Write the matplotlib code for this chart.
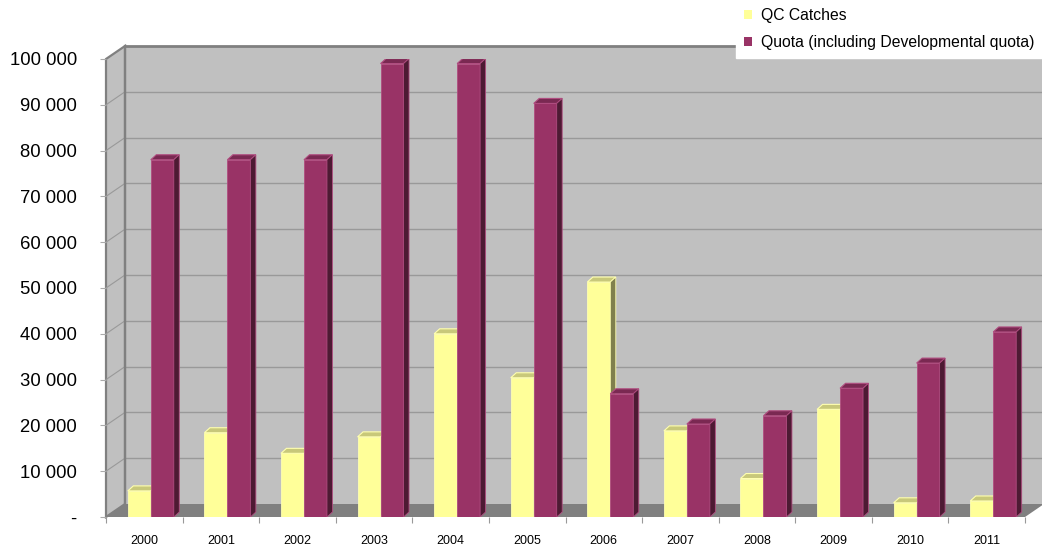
import matplotlib
matplotlib.use("Agg")
import matplotlib.pyplot as plt
from matplotlib.patches import Polygon, Patch
import numpy as np

plt.rcParams['font.family'] = ['Liberation Sans', 'DejaVu Sans']

years = ['2000', '2001', '2002', '2003', '2004', '2005', '2006', '2007', '2008', '2009', '2010', '2011']
catches = [5700, 18400, 13900, 17500, 40000, 30400, 51300, 18800, 8400, 23500, 3100, 3500]
quota = [78000, 78000, 78000, 99000, 99000, 90300, 26900, 20300, 22100, 28100, 33600, 40400]
series_names = ['QC Catches', 'Quota (including Developmental quota)']
ytick_values = list(range(0, 100001, 10000))

W, H, DPI = 1042, 550, 100
fig = plt.figure(figsize=(W / DPI, H / DPI), dpi=DPI)
fig.patch.set_facecolor('white')

# axes placement in pixels
ax_l, ax_r, ax_b, ax_t = 106, 1025, 517, 59
ax = fig.add_axes([ax_l / W, (H - ax_b) / H, (ax_r - ax_l) / W, (ax_b - ax_t) / H])
n = len(years)
x0, x1 = -0.5, n - 0.5
ymax = 100000
ax.set_xlim(x0, x1)
ax.set_ylim(0, ymax)
ax.patch.set_visible(False)
for s in ax.spines.values():
    s.set_visible(False)

px_x = (ax_r - ax_l) / (x1 - x0)      # pixels per category unit
px_y = (ax_b - ax_t) / ymax           # pixels per value unit

# wall depth
bdx = 19 / px_x
bdy = 13 / px_y
# bar depth
dx = 5.5 / px_x
dy = 5 / px_y

wall_c = '#C0C0C0'
edge_c = '#808080'
floor_c = '#808080'

# back wall
ax.add_patch(Polygon([(x0 + bdx, bdy), (x1 + bdx + 0.5, bdy), (x1 + bdx + 0.5, ymax + bdy), (x0 + bdx, ymax + bdy)],
                     closed=True, facecolor=wall_c, edgecolor='none', zorder=1, clip_on=False))
ax.plot([x0 + bdx, x1 + bdx + 0.5], [ymax + bdy, ymax + bdy], color=edge_c, lw=2.0, zorder=1.5, clip_on=False)
# side wall
ax.add_patch(Polygon([(x0, 0), (x0, ymax), (x0 + bdx, ymax + bdy), (x0 + bdx, bdy)],
                     closed=True, facecolor=wall_c, edgecolor=edge_c, lw=1.6, zorder=1.2, clip_on=False))
# gridlines
for v in ytick_values[1:-1]:
    ax.plot([x0 + bdx, x1 + bdx + 0.5], [v + bdy, v + bdy], color='#999999', lw=1.0, zorder=1.1, clip_on=False)
    ax.plot([x0, x0 + bdx], [v, v + bdy], color='#999999', lw=0.8, zorder=1.3, clip_on=False)
ax.plot([x0 + bdx, x0 + bdx], [bdy, ymax + bdy], color=edge_c, lw=1.6, zorder=1.4, clip_on=False)
# floor
ax.add_patch(Polygon([(x0, 0), (x1, 0), (x1 + bdx, bdy), (x0 + bdx, bdy)],
                     closed=True, facecolor=floor_c, edgecolor='none', zorder=2, clip_on=False))

# bars
bw = 0.3
off_y = -0.215
off_m = off_y + bw
styles = [
    dict(front='#FFFF99', top='#C8C87A', side='#80804D', edge='#FFFFB0'),
    dict(front='#993366', top='#7A2952', side='#4D1A33', edge='#B04D80'),
]


def draw_bar(xl, v, st, z):
    xr = xl + bw
    ax.bar(xl, v, width=bw, align='edge', color=st['front'], edgecolor=st['edge'], lw=0.6, zorder=z)
    ax.add_patch(Polygon([(xl, v), (xr, v), (xr + dx, v + dy), (xl + dx, v + dy)], closed=True,
                         facecolor=st['top'], edgecolor=st['edge'], lw=0.8, zorder=z))
    ax.add_patch(Polygon([(xr, 0), (xr, v), (xr + dx, v + dy), (xr + dx, dy)], closed=True,
                         facecolor=st['side'], edgecolor=st['edge'], lw=0.6, zorder=z))


z = 3
for i in range(n):
    draw_bar(i + off_y, catches[i], styles[0], z)
    z += 0.01
    draw_bar(i + off_m, quota[i], styles[1], z)
    z += 0.01

# y ticks
ax.set_yticks(ytick_values)
ax.set_yticklabels(['-' if v == 0 else f"{v:,}".replace(',', ' ') for v in ytick_values])
ax.tick_params(axis='y', length=4.5, width=0.8, color='#AAAAAA', pad=16.5, labelsize=13.3, labelcolor='black')
# x ticks
ax.set_xticks(range(n))
ax.set_xticklabels(years)
ax.set_xticks(np.arange(x0, x1 + 0.01, 1.0), minor=True)
ax.tick_params(axis='x', which='major', length=0, pad=13, labelsize=9)
ax.tick_params(axis='x', which='minor', length=4, width=0.8, color='#999999')

# legend
handles = [Patch(facecolor=styles[0]['front'], edgecolor='none'),
           Patch(facecolor=styles[1]['front'], edgecolor='none')]
leg = fig.legend(handles, series_names, loc='upper right', bbox_to_anchor=(1.0, 1.0),
                 frameon=True, facecolor='white', edgecolor='white', fancybox=False, framealpha=1,
                 fontsize=11.3, handlelength=0.55, handleheight=0.55, handletextpad=0.55,
                 labelspacing=0.78, borderpad=0.5, borderaxespad=0.0)
leg.set_zorder(10)

fig.savefig('out.png', dpi=DPI, facecolor='white')
